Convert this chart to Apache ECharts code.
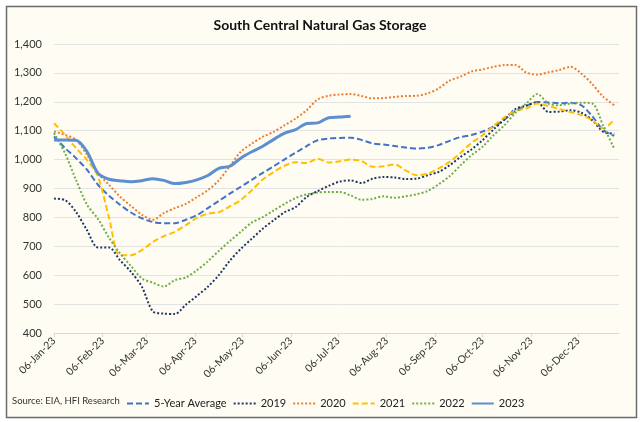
<!DOCTYPE html>
<html><head><meta charset="utf-8">
<script src="https://cdn.jsdelivr.net/npm/echarts@6/dist/echarts.min.js"></script>
<style>html,body{margin:0;padding:0;background:#fff}#c{width:640px;height:422px}</style>
</head><body><div id="c"></div>
<script>
const weekDates = [
'2023-01-06','2023-01-13','2023-01-20','2023-01-27','2023-02-03','2023-02-10','2023-02-17','2023-02-24',
'2023-03-03','2023-03-10','2023-03-17','2023-03-24','2023-03-31','2023-04-07','2023-04-14','2023-04-21','2023-04-28',
'2023-05-05','2023-05-12','2023-05-19','2023-05-26','2023-06-02','2023-06-09','2023-06-16','2023-06-23','2023-06-30',
'2023-07-07','2023-07-14','2023-07-21','2023-07-28','2023-08-04','2023-08-11','2023-08-18','2023-08-25',
'2023-09-01','2023-09-08','2023-09-15','2023-09-22','2023-09-29','2023-10-06','2023-10-13','2023-10-20','2023-10-27',
'2023-11-03','2023-11-10','2023-11-17','2023-11-24','2023-12-01','2023-12-08','2023-12-15','2023-12-22','2023-12-29'];
const tickDates = ['2023-01-06','2023-02-06','2023-03-06','2023-04-06','2023-05-06','2023-06-06',
'2023-07-06','2023-08-06','2023-09-06','2023-10-06','2023-11-06','2023-12-06'];
const monthNames = ['Jan','Feb','Mar','Apr','May','Jun','Jul','Aug','Sep','Oct','Nov','Dec'];
const axisStart = '2023-01-06';
const axisEnd = '2024-01-01';

const seriesNames = ['5-Year Average','2019','2020','2021','2022','2023'];
const fiveYearAvg = [1080,1040,1005,965,913,875,844,817,797,784,780,780,792,808,832,857,882,906,930,954,977,1001,1024,1047,1067,1073,
1075,1076,1068,1056,1052,1047,1042,1038,1041,1050,1065,1078,1085,1097,1114,1138,1169,1186,1199,1198,1195,1197,1188,1150,1102,1082];
const y2019 = [865,860,819,756,696,696,652,612,560,475,467,466,498,528,560,600,650,691,726,761,790,818,836,871,891,909,
924,928,919,934,940,938,933,934,946,957,980,1009,1035,1067,1104,1139,1175,1187,1198,1165,1166,1171,1162,1136,1096,1090];
const y2020 = [1097,1086,1069,1017,953,913,872,840,809,792,815,832,847,870,894,928,977,1027,1055,1079,1096,1119,1142,1171,1208,1221,
1225,1227,1220,1212,1213,1217,1220,1221,1229,1246,1273,1287,1305,1312,1321,1327,1327,1301,1294,1302,1310,1321,1298,1261,1217,1188];
const y2021 = [1126,1086,1040,999,942,800,669,669,687,715,735,750,773,798,813,818,838,860,894,931,957,979,991,988,1003,990,
994,1000,995,975,977,983,963,946,951,969,992,1023,1058,1084,1116,1146,1169,1177,1194,1185,1175,1165,1154,1136,1108,1139];
const y2022 = [1092,1022,930,844,795,730,676,632,589,574,561,583,592,617,648,684,718,750,782,801,824,847,867,880,886,888,
888,876,861,864,873,868,873,880,891,914,942,980,1015,1044,1084,1119,1162,1194,1227,1194,1188,1194,1197,1194,1116,1038];
const y2023 = [1068,1068,1067,1028,953,932,927,923,927,934,928,917,921,930,945,970,977,1005,1027,1046,1070,1092,1104,1125,1127,1145,
1147,1150];
const yTicks = {min:400, max:1400, interval:100};

const seriesValues = [fiveYearAvg, y2019, y2020, y2021, y2022, y2023];
const seriesColors = ['#4472C4','#1F3864','#ED7D31','#FFC000','#70AD47','#5B8FD0'];
const seriesDash = [[6,3],[2,2],[2,2],[6,3],[2,2],'solid'];
const seriesWidth = [2,2,2,2,2,3];

const DAY = 86400000;
function parseUTC(s){const p=s.split('-').map(Number);return Date.UTC(p[0],p[1]-1,p[2]);}
const t0 = parseUTC(axisStart);
function dayOffset(s){return Math.round((parseUTC(s)-t0)/DAY);}
const tickOffsets = tickDates.map(dayOffset);
const FONT = 'Lato, "Open Sans", sans-serif';

const chart = echarts.init(document.getElementById('c'), null, {renderer:'canvas'});
chart.setOption({
  backgroundColor:'#ffffff',
  animation:false,
  graphic:[
    {type:'rect', z:-10, silent:true, shape:{x:6.5,y:6.5,width:630,height:411},
     style:{fill:'#FEFCF3', stroke:'#6b6b6b', lineWidth:1.5}},
    {type:'text', left:12, top:396, z:10,
     style:{text:'Source: EIA, HFI Research', fill:'#333', font:'9.5px '+FONT}}
  ],
  title:{text:'South Central Natural Gas Storage', left:'center', top:13,
    textStyle:{fontFamily:FONT, fontWeight:'bold', fontSize:14, color:'#111'}},
  grid:{left:54, right:21, top:44, bottom:89, containLabel:false},
  legend:{left:121, top:393, itemWidth:22, itemHeight:10, itemGap:6,
    itemStyle:{opacity:0},
    textStyle:{fontFamily:FONT, fontSize:11, color:'#222'},
    data:seriesNames},
  xAxis:{type:'value', min:0, max:dayOffset(axisEnd),
    axisLine:{lineStyle:{color:'#D9D9D9'}},
    axisTick:{show:true, length:4, customValues:tickOffsets, lineStyle:{color:'#D9D9D9'}},
    splitLine:{show:false},
    axisLabel:{customValues:tickOffsets, rotate:45, fontSize:10.5, fontFamily:FONT, color:'#333', margin:6,
      formatter:function(v){const d=new Date(t0+v*DAY);const dd=('0'+d.getUTCDate()).slice(-2);
        return dd+'-'+monthNames[d.getUTCMonth()]+'-'+String(d.getUTCFullYear()).slice(2);}}},
  yAxis:{type:'value', min:yTicks.min, max:yTicks.max, interval:yTicks.interval,
    axisLine:{show:false}, axisTick:{show:false},
    splitLine:{lineStyle:{color:'#E3E3E3', width:1}},
    axisLabel:{fontSize:11, fontFamily:FONT, color:'#333', margin:12,
      formatter:function(v){return v.toLocaleString('en-US');}}},
  series: seriesNames.map(function(n,k){
    return {name:n, type:'line', symbol:'none', smooth:0.3, z:k===5?5:3,
      data: seriesValues[k].map(function(v,i){return [dayOffset(weekDates[i]), v];}),
      lineStyle:{color:seriesColors[k], width:seriesWidth[k], type:seriesDash[k]},
      itemStyle:{color:seriesColors[k]}};
  })
});
</script></body></html>
